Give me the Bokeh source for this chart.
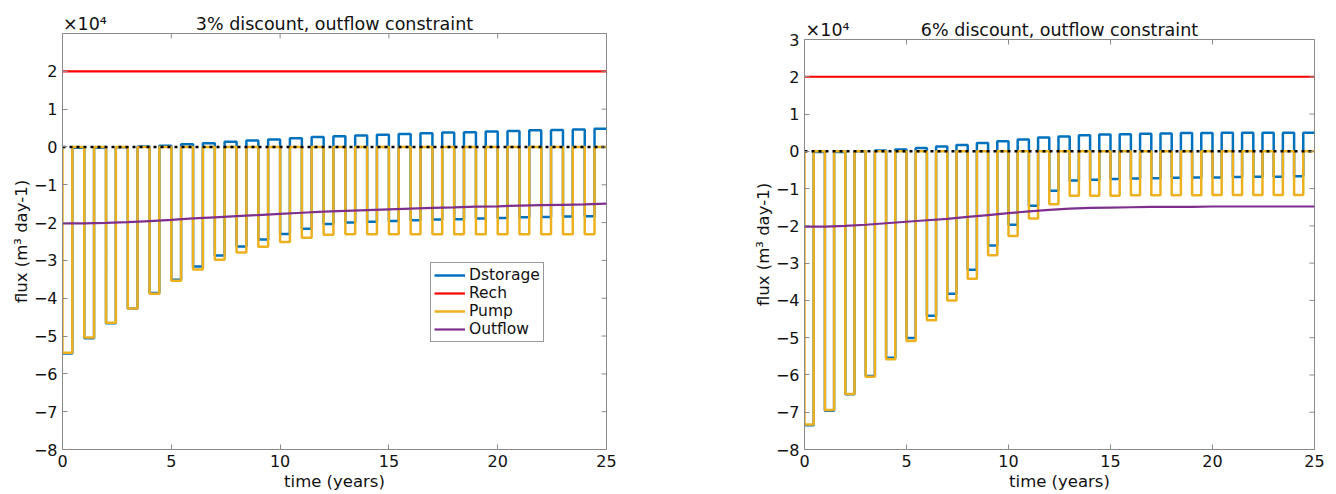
import math
from bokeh.plotting import figure
from bokeh.models import (Range1d, LinearAxis, FixedTicker, Legend, LegendItem,
                          CustomJSTickFormatter)
from bokeh.layouts import row, column
from bokeh.embed import file_html
from bokeh.resources import INLINE

# ---------------- data (flux in units of 10^4 m3/day) ----------------
years = list(range(25))          # start of each annual pumping season
pulse_frac = 0.45                # fraction of the year with pumping
t_end = 25
outflow_t = list(range(26))
rech_t = [0, 25]
rech_level = [2.0, 2.0]

# 3% discount
pump_3 = [-5.44, -5.04, -4.65, -4.27, -3.88, -3.54, -3.24, -2.98, -2.79, -2.64,
          -2.51, -2.40, -2.32, -2.31, -2.31, -2.31, -2.31, -2.31, -2.31, -2.31,
          -2.31, -2.31, -2.31, -2.31, -2.31]
dstor_pump_3 = [-5.46, -5.06, -4.66, -4.27, -3.86, -3.51, -3.16, -2.87, -2.63, -2.45,
                -2.30, -2.16, -2.04, -2.00, -1.98, -1.96, -1.94, -1.92, -1.91, -1.89,
                -1.88, -1.86, -1.85, -1.84, -1.83]
dstor_rest_3 = [-0.02, -0.02, -0.01, 0.01, 0.03, 0.07, 0.10, 0.14, 0.17, 0.20,
                0.23, 0.26, 0.28, 0.30, 0.32, 0.34, 0.36, 0.38, 0.39, 0.41,
                0.42, 0.44, 0.45, 0.46, 0.48]
outflow_3 = [-2.02, -2.02, -2.01, -1.99, -1.96, -1.93, -1.89, -1.86, -1.83, -1.80,
             -1.77, -1.74, -1.71, -1.69, -1.67, -1.65, -1.63, -1.61, -1.60, -1.58,
             -1.57, -1.55, -1.54, -1.53, -1.52, -1.50]

# 6% discount
pump_6 = [-7.33, -6.94, -6.51, -6.05, -5.58, -5.09, -4.53, -4.00, -3.42, -2.79,
          -2.27, -1.80, -1.42, -1.19, -1.19, -1.19, -1.18, -1.18, -1.18, -1.18,
          -1.17, -1.17, -1.17, -1.17, -1.17]
dstor_pump_6 = [-7.35, -6.96, -6.52, -6.03, -5.54, -5.01, -4.41, -3.82, -3.18, -2.53,
                -1.97, -1.46, -1.06, -0.78, -0.76, -0.74, -0.73, -0.72, -0.71, -0.70,
                -0.70, -0.69, -0.68, -0.68, -0.67]
dstor_rest_6 = [-0.02, -0.02, 0.00, 0.02, 0.05, 0.09, 0.13, 0.17, 0.22, 0.27,
                0.32, 0.37, 0.40, 0.43, 0.45, 0.46, 0.47, 0.48, 0.49, 0.49,
                0.50, 0.50, 0.50, 0.50, 0.50]
outflow_6 = [-2.02, -2.02, -2.00, -1.97, -1.93, -1.89, -1.85, -1.81, -1.76, -1.71,
             -1.66, -1.61, -1.57, -1.54, -1.52, -1.51, -1.50, -1.49, -1.49, -1.49,
             -1.48, -1.48, -1.48, -1.48, -1.48, -1.48]

x_ticks = [0, 5, 10, 15, 20, 25]
y_ticks_left = [-8, -7, -6, -5, -4, -3, -2, -1, 0, 1, 2]
y_ticks_right = [-8, -7, -6, -5, -4, -3, -2, -1, 0, 1, 2, 3]
y_min, y_max = -8, 3
multiplier_text = "×10⁴"

C_DST = "#0072BD"
C_RECH = "#FF0000"
C_PUMP = "#EDB120"
C_OUT = "#7E2F8E"
AXC = "#8a8a8a"
TXT = "#111111"
FONT = "DejaVu Sans"


def pump_path(pump):
    xs, ys = [], []
    for n, v in zip(years, pump):
        xs += [n, n, n + pulse_frac, n + pulse_frac]
        ys += [0, v, v, 0]
    xs.append(t_end)
    ys.append(0)
    return xs, ys


def dstor_path(dp, dr):
    xs, ys = [], []
    for n, a, b in zip(years, dp, dr):
        xs += [n, n + pulse_frac, n + pulse_frac, n + 1]
        ys += [a, a, b, b]
    return xs, ys


def make_plot(title, pump, dp, dr, outflow, yticks, width, border_l, border_r,
              border_t, mult_pos, legend):
    p = figure(width=width, height=494, output_backend="svg", toolbar_location=None,
               title=None, x_range=Range1d(0, t_end), y_range=Range1d(y_min, y_max),
               min_border_left=border_l, min_border_right=border_r,
               min_border_top=border_t, min_border_bottom=45,
               background_fill_color="white", border_fill_color="white")
    p.grid.visible = False
    p.outline_line_color = AXC

    p.xaxis.ticker = FixedTicker(ticks=x_ticks)
    p.yaxis.ticker = FixedTicker(ticks=yticks)
    p.xaxis.axis_label = "time (years)"
    p.yaxis.axis_label = "flux (m³ day-1)"
    for ax in p.xaxis + p.yaxis:
        ax.major_tick_in = 5
        ax.major_tick_out = 0
        ax.minor_tick_line_color = None
        ax.axis_line_color = AXC
        ax.major_tick_line_color = AXC
        ax.major_label_text_font = FONT
        ax.major_label_text_font_size = "16px"
        ax.major_label_text_color = TXT
        ax.axis_label_text_font = FONT
        ax.axis_label_text_font_size = "16.5px"
        ax.axis_label_text_font_style = "normal"
        ax.axis_label_text_color = TXT
        ax.major_label_standoff = 5
    p.xaxis.axis_label_standoff = 2
    p.yaxis.axis_label_standoff = 0

    # title and the x10^4 multiplier on one line above the frame
    top = LinearAxis(ticker=FixedTicker(ticks=[mult_pos, t_end / 2]),
                     formatter=CustomJSTickFormatter(
                         args=dict(a=multiplier_text, b=title),
                         code="return tick < 5 ? a : b;"))
    top.axis_line_color = None
    top.major_tick_line_color = None
    top.minor_tick_line_color = None
    top.major_tick_in = 0
    top.major_tick_out = 0
    top.major_label_standoff = 0
    top.major_label_text_font = FONT
    top.major_label_text_font_size = "17.5px"
    top.major_label_text_color = TXT
    p.add_layout(top, "above")

    px, py = pump_path(pump)
    dx, dy = dstor_path(dp, dr)
    r1 = p.line(dx, dy, line_color=C_DST, line_width=2.5)
    r2 = p.line(rech_t, rech_level, line_color=C_RECH, line_width=2.2)
    r3 = p.line(px, py, line_color=C_PUMP, line_width=2.5)
    r4 = p.line(outflow_t, outflow, line_color=C_OUT, line_width=2.2)
    p.line(rech_t, [0, 0], line_color="black", line_width=2.5, line_dash="3 4")

    # inward tick marks on the top and right frame edges (half outside is clipped)
    p.scatter(x_ticks, [y_max] * len(x_ticks), marker="dash", size=10,
              angle=math.pi / 2, line_color=AXC, line_width=1)
    p.scatter([t_end] * len(yticks), yticks, marker="dash", size=10,
              line_color=AXC, line_width=1)

    if legend:
        lg = Legend(items=[LegendItem(label="Dstorage", renderers=[r1]),
                           LegendItem(label="Rech", renderers=[r2]),
                           LegendItem(label="Pump", renderers=[r3]),
                           LegendItem(label="Outflow", renderers=[r4])],
                    location=(368, 107), orientation="vertical",
                    glyph_width=31, glyph_height=18, label_height=18,
                    label_standoff=4, spacing=0, padding=3, margin=0,
                    label_text_font=FONT, label_text_font_size="15.5px",
                    label_text_color=TXT,
                    border_line_color="#333333", border_line_width=1,
                    background_fill_color="white", background_fill_alpha=1)
        p.add_layout(lg, "center")
    return p


p1 = make_plot("3% discount, outflow constraint", pump_3, dstor_pump_3, dstor_rest_3,
               outflow_3, y_ticks_left, 700, 62, 94, 33, 1.03, True)
p2 = make_plot("6% discount, outflow constraint", pump_6, dstor_pump_6, dstor_rest_6,
               outflow_6, y_ticks_right, 636, 104, 22, 39, 1.13, False)

layout = row(column(p1), column(p2))
open("out.html", "w").write(file_html(layout, INLINE))
